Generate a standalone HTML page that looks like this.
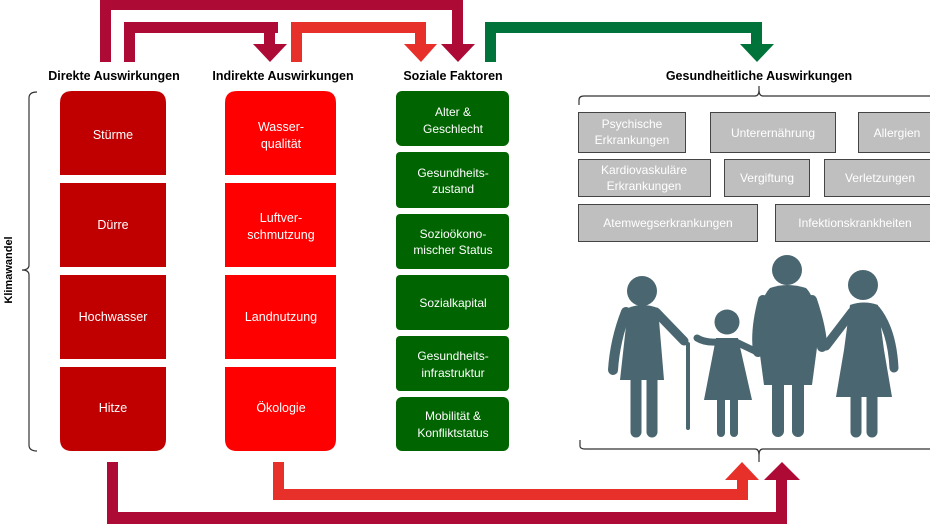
<!DOCTYPE html>
<html><head><meta charset="utf-8"><style>
html,body{margin:0;padding:0;background:#fff;}
body{width:930px;height:524px;overflow:hidden;font-family:"Liberation Sans",sans-serif;}
</style></head><body>
<svg width="930" height="524" viewBox="0 0 930 524" xmlns="http://www.w3.org/2000/svg" font-family="Liberation Sans, sans-serif">
<!-- top arrows -->
<g fill="#ad0a36">
<rect x="100" y="0" width="11" height="62"/><rect x="100" y="0" width="363" height="10"/><rect x="452" y="0" width="11" height="46"/>
<polygon points="441,44 475,44 458,62"/>
<rect x="124" y="22" width="11" height="40"/><rect x="124" y="22" width="154" height="11"/><rect x="264" y="22" width="11" height="24"/>
<polygon points="253,44 287,44 270,62"/>
</g>
<g fill="#e8302a">
<rect x="291" y="22" width="11" height="40"/><rect x="291" y="22" width="135" height="11"/><rect x="415" y="22" width="11" height="24"/>
<polygon points="404,44 437,44 421,62"/>
</g>
<g fill="#00733a">
<rect x="485" y="22" width="11" height="40"/><rect x="485" y="22" width="277" height="11"/><rect x="751" y="22" width="11" height="24"/>
<polygon points="740,44 774,44 757,62"/>
</g>
<!-- headers -->
<g font-weight="bold" font-size="12.5" text-anchor="middle" fill="#000">
<text x="114" y="80">Direkte Auswirkungen</text>
<text x="283" y="80">Indirekte Auswirkungen</text>
<text x="453" y="80">Soziale Faktoren</text>
<text x="759" y="80">Gesundheitliche Auswirkungen</text>
</g>
<!-- left bracket -->
<path d="M37,92 Q29,92 29,98 V265 Q29,270 22,270 Q29,270 29,275 V445 Q29,451 37,451" fill="none" stroke="#333" stroke-width="1.2"/>
<text transform="translate(12,270) rotate(-90)" font-size="11" font-weight="bold" text-anchor="middle">Klimawandel</text>
<!-- column 1 -->
<g fill="#c00000">
<path d="M72,91 H154 Q166,91 166,103 V175 H60 V103 Q60,91 72,91Z"/>
<rect x="60" y="183" width="106" height="84"/>
<rect x="60" y="275" width="106" height="84"/>
<path d="M60,367 H166 V439 Q166,451 154,451 H72 Q60,451 60,439Z"/>
</g>
<g fill="#ff0000">
<path d="M237,91 H324 Q336,91 336,103 V175 H225 V103 Q225,91 237,91Z"/>
<rect x="225" y="183" width="111" height="84"/>
<rect x="225" y="275" width="111" height="84"/>
<path d="M225,367 H336 V439 Q336,451 324,451 H237 Q225,451 225,439Z"/>
</g>
<g fill="#fff" font-size="12.5" text-anchor="middle">
<text x="113" y="139">Stürme</text>
<text x="113" y="229">Dürre</text>
<text x="113" y="321">Hochwasser</text>
<text x="113" y="412">Hitze</text>
<text x="281" y="131">Wasser-</text><text x="281" y="148">qualität</text>
<text x="281" y="222">Luftver-</text><text x="281" y="239">schmutzung</text>
<text x="281" y="321">Landnutzung</text>
<text x="281" y="412">Ökologie</text>
</g>
<g fill="#006400">
<rect x="396" y="91" width="113" height="55" rx="6"/>
<rect x="396" y="152" width="113" height="56" rx="4"/>
<rect x="396" y="214" width="113" height="55" rx="4"/>
<rect x="396" y="275" width="113" height="55" rx="4"/>
<rect x="396" y="336" width="113" height="55" rx="4"/>
<rect x="396" y="397" width="113" height="54" rx="6"/>
</g>
<g fill="#fff" font-size="12" text-anchor="middle">
<text x="453" y="116">Alter &amp;</text><text x="453" y="133">Geschlecht</text>
<text x="453" y="177">Gesundheits-</text><text x="453" y="193">zustand</text>
<text x="453" y="238">Sozioökono-</text><text x="453" y="254">mischer Status</text>
<text x="453" y="307">Sozialkapital</text>
<text x="453" y="360">Gesundheits-</text><text x="453" y="377">infrastruktur</text>
<text x="453" y="420">Mobilität &amp;</text><text x="453" y="437">Konfliktstatus</text>
</g>
<!-- right bracket top -->
<path d="M579,105 V100 Q579,96 584,96 H755 Q759,96 759,90 V86 M759,90 Q759,96 763,96 H930" fill="none" stroke="#333" stroke-width="1.2"/>
<g fill="#bfbfbf" stroke="#444" stroke-width="1">
<rect x="578.5" y="112.5" width="107" height="40"/>
<rect x="710.5" y="112.5" width="125" height="40"/>
<rect x="858.5" y="112.5" width="75" height="40"/>
<rect x="578.5" y="159.5" width="132" height="37"/>
<rect x="724.5" y="159.5" width="85" height="37"/>
<rect x="824.5" y="159.5" width="110" height="37"/>
<rect x="578.5" y="204.5" width="179" height="37"/>
<rect x="775.5" y="204.5" width="160" height="37"/>
</g>
<g fill="#fff" font-size="12" text-anchor="middle">
<text x="632" y="128">Psychische</text><text x="632" y="144">Erkrankungen</text>
<text x="773" y="137">Unterernährung</text>
<text x="897" y="137">Allergien</text>
<text x="644" y="174">Kardiovaskuläre</text><text x="644" y="190">Erkrankungen</text>
<text x="767" y="182">Vergiftung</text>
<text x="880" y="182">Verletzungen</text>
<text x="668" y="227">Atemwegserkrankungen</text>
<text x="855" y="227">Infektionskrankheiten</text>
</g>
<!-- people -->
<g fill="#4a6670" stroke="#4a6670" stroke-linecap="round">
<circle cx="642" cy="291" r="15" stroke="none"/>
<path d="M628,308 Q642,302 658,308 L664,380 L620,380Z" stroke="none"/>
<path d="M626,312 Q615,340 613,370" stroke-width="10" fill="none"/>
<path d="M656,312 L684,341" stroke-width="9" fill="none"/>
<line x1="688" y1="344" x2="688" y2="428" stroke-width="4"/>
<line x1="636" y1="378" x2="636" y2="432" stroke-width="11"/>
<line x1="652" y1="378" x2="652" y2="432" stroke-width="11"/>
<circle cx="727" cy="322" r="12.5" stroke="none"/>
<path d="M716,338 H738 L752,400 H704Z" stroke="none"/>
<path d="M718,342 Q705,343 697,338" stroke-width="7" fill="none"/>
<path d="M736,342 L757,352" stroke-width="7" fill="none"/>
<line x1="721" y1="398" x2="721" y2="433" stroke-width="8"/>
<line x1="734" y1="398" x2="734" y2="433" stroke-width="8"/>
<circle cx="787" cy="270" r="15" stroke="none"/>
<path d="M770,288 Q787,282 806,288 Q818,300 818,340 L812,385 H764 L758,340 Q758,300 770,288Z" stroke="none"/>
<path d="M763,300 Q755,330 758,352" stroke-width="10" fill="none"/>
<path d="M812,300 Q822,330 822,347" stroke-width="10" fill="none"/>
<line x1="778" y1="380" x2="778" y2="431" stroke-width="12"/>
<line x1="798" y1="380" x2="798" y2="431" stroke-width="12"/>
<circle cx="863" cy="285" r="15" stroke="none"/>
<path d="M850,305 Q864,300 878,305 L884,350 L892,397 H836 L844,350Z" stroke="none"/>
<path d="M852,312 L826,346" stroke-width="9" fill="none"/>
<path d="M876,310 Q892,330 894,368" stroke-width="9" fill="none"/>
<line x1="856" y1="395" x2="856" y2="432" stroke-width="11"/>
<line x1="872" y1="395" x2="872" y2="432" stroke-width="11"/>
</g>
<!-- bottom bracket -->
<path d="M580,440 V446 Q580,449 585,449 H755 Q759,449 759,455 V462 M759,455 Q759,449 763,449 H930" fill="none" stroke="#333" stroke-width="1.2"/>
<!-- bottom arrows -->
<g fill="#ad0a36">
<rect x="107" y="462" width="11" height="62"/><rect x="107" y="512" width="680" height="12"/><rect x="776" y="478" width="11" height="46"/>
<polygon points="764,480 800,480 782,462"/>
</g>
<g fill="#e8302a">
<rect x="273" y="462" width="11" height="38"/><rect x="273" y="489" width="475" height="11"/><rect x="737" y="478" width="11" height="22"/>
<polygon points="725,480 759,480 742,462"/>
</g>
</svg>
</body></html>
